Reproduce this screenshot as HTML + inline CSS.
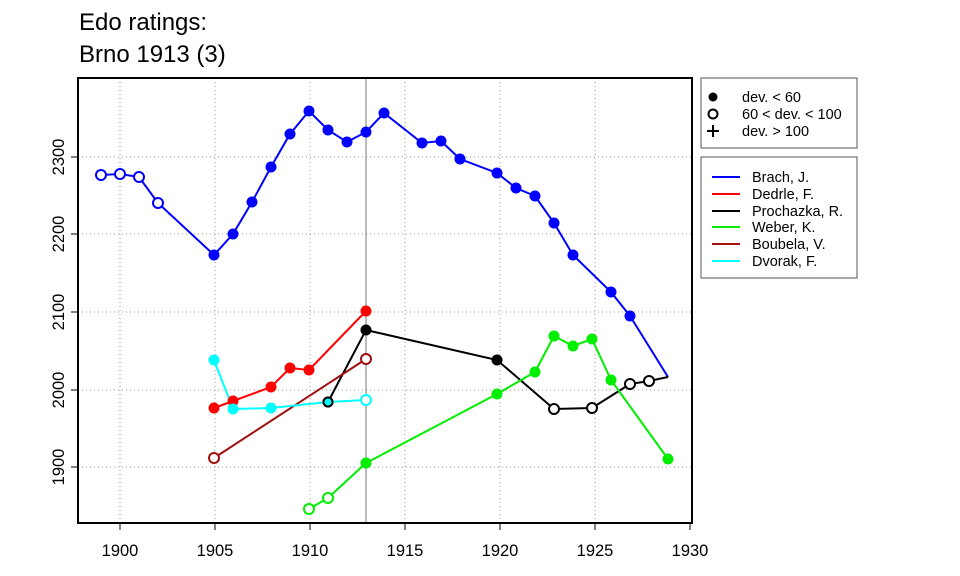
<!DOCTYPE html>
<html><head><meta charset="utf-8"><style>body{margin:0;background:#fff}svg{display:block}text{font-family:"Liberation Sans",Arial,sans-serif}</style></head>
<body>
<svg width="960" height="576" viewBox="0 0 960 576" xmlns="http://www.w3.org/2000/svg">
<text x="79" y="30" font-size="24">Edo ratings:</text>
<text x="79" y="62" font-size="24">Brno 1913 (3)</text>
<g stroke="#999" stroke-width="1" stroke-dasharray="1,3">
<line x1="120" y1="78" x2="120" y2="523"/><line x1="215" y1="78" x2="215" y2="523"/><line x1="310" y1="78" x2="310" y2="523"/><line x1="405" y1="78" x2="405" y2="523"/><line x1="500" y1="78" x2="500" y2="523"/><line x1="595" y1="78" x2="595" y2="523"/>
<line x1="78" y1="157" x2="692" y2="157"/><line x1="78" y1="234" x2="692" y2="234"/><line x1="78" y1="312" x2="692" y2="312"/><line x1="78" y1="390" x2="692" y2="390"/><line x1="78" y1="467" x2="692" y2="467"/>
</g>
<line x1="366" y1="78" x2="366" y2="523" stroke="#777" stroke-width="1"/>
<g fill="none" stroke-width="2">
<polyline stroke="#0000ff" points="101,175 120,174 139,177 158,203 214,255 233,234 252,202 271,167 290,134 309,111 328,130 347,142 366,132 384,113 422,143 441,141 460,159 497,173 516,188 535,196 554,223 573,255 611,292 630,316 668,377"/>
<polyline stroke="#ff0000" points="214,408 233,401 271,387 290,368 309,370 366,311"/>
<polyline stroke="#000" points="328,402 366,330 497,360 554,409 592,408 630,384 649,381 668,377"/>
<polyline stroke="#00ee00" points="309,509 328,498 366,463 497,394 535,372 554,336 573,346 592,339 611,380 668,459"/>
<polyline stroke="#a01010" points="214,458 366,359"/>
<polyline stroke="#00ffff" points="214,360 233,409 271,408 328,402 366,400"/>
</g>
<g stroke-width="2">
<g fill="#fff" stroke="#0000ff"><circle cx="101" cy="175" r="5"/><circle cx="120" cy="174" r="5"/><circle cx="139" cy="177" r="5"/><circle cx="158" cy="203" r="5"/></g>
<g fill="#0000ff" stroke="#0000ff"><circle cx="214" cy="255" r="4.5"/><circle cx="233" cy="234" r="4.5"/><circle cx="252" cy="202" r="4.5"/><circle cx="271" cy="167" r="4.5"/><circle cx="290" cy="134" r="4.5"/><circle cx="309" cy="111" r="4.5"/><circle cx="328" cy="130" r="4.5"/><circle cx="347" cy="142" r="4.5"/><circle cx="366" cy="132" r="4.5"/><circle cx="384" cy="113" r="4.5"/><circle cx="422" cy="143" r="4.5"/><circle cx="441" cy="141" r="4.5"/><circle cx="460" cy="159" r="4.5"/><circle cx="497" cy="173" r="4.5"/><circle cx="516" cy="188" r="4.5"/><circle cx="535" cy="196" r="4.5"/><circle cx="554" cy="223" r="4.5"/><circle cx="573" cy="255" r="4.5"/><circle cx="611" cy="292" r="4.5"/><circle cx="630" cy="316" r="4.5"/></g>
<g fill="#ff0000" stroke="#ff0000"><circle cx="214" cy="408" r="4.5"/><circle cx="233" cy="401" r="4.5"/><circle cx="271" cy="387" r="4.5"/><circle cx="290" cy="368" r="4.5"/><circle cx="309" cy="370" r="4.5"/><circle cx="366" cy="311" r="4.5"/></g>
<g fill="#000" stroke="#000"><circle cx="328" cy="402" r="4.5"/><circle cx="366" cy="330" r="4.5"/><circle cx="497" cy="360" r="4.5"/></g>
<g fill="#fff" stroke="#000"><circle cx="554" cy="409" r="5"/><circle cx="592" cy="408" r="5"/><circle cx="630" cy="384" r="5"/><circle cx="649" cy="381" r="5"/></g>
<g fill="#fff" stroke="#00ee00"><circle cx="309" cy="509" r="5"/><circle cx="328" cy="498" r="5"/></g>
<g fill="#00ee00" stroke="#00ee00"><circle cx="366" cy="463" r="4.5"/><circle cx="497" cy="394" r="4.5"/><circle cx="535" cy="372" r="4.5"/><circle cx="554" cy="336" r="4.5"/><circle cx="573" cy="346" r="4.5"/><circle cx="592" cy="339" r="4.5"/><circle cx="611" cy="380" r="4.5"/><circle cx="668" cy="459" r="4.5"/></g>
<g fill="#fff" stroke="#a01010"><circle cx="214" cy="458" r="5"/><circle cx="366" cy="359" r="5"/></g>
<g fill="#00ffff" stroke="#00ffff"><circle cx="214" cy="360" r="4.5"/><circle cx="233" cy="409" r="4.5"/><circle cx="271" cy="408" r="4.5"/></g>
<circle cx="328" cy="402" r="4.5" fill="#00ffff" stroke="#000"/>
<circle cx="366" cy="400" r="5" fill="#fff" stroke="#00ffff"/>
</g>
<rect x="78" y="78" width="614" height="445" fill="none" stroke="#000" stroke-width="2"/>
<g stroke="#000" stroke-width="1">
<line x1="120" y1="523" x2="120" y2="530"/><line x1="215" y1="523" x2="215" y2="530"/><line x1="310" y1="523" x2="310" y2="530"/><line x1="405" y1="523" x2="405" y2="530"/><line x1="500" y1="523" x2="500" y2="530"/><line x1="595" y1="523" x2="595" y2="530"/><line x1="690" y1="523" x2="690" y2="530"/>
<line x1="71" y1="157" x2="78" y2="157"/><line x1="71" y1="234" x2="78" y2="234"/><line x1="71" y1="312" x2="78" y2="312"/><line x1="71" y1="390" x2="78" y2="390"/><line x1="71" y1="467" x2="78" y2="467"/>
</g>
<g font-size="16.5" text-anchor="middle">
<text x="120" y="556">1900</text><text x="215" y="556">1905</text><text x="310" y="556">1910</text><text x="405" y="556">1915</text><text x="500" y="556">1920</text><text x="595" y="556">1925</text><text x="690" y="556">1930</text>
<text transform="translate(64,157) rotate(-90)">2300</text><text transform="translate(64,234) rotate(-90)">2200</text><text transform="translate(64,312) rotate(-90)">2100</text><text transform="translate(64,390) rotate(-90)">2000</text><text transform="translate(64,467) rotate(-90)">1900</text>
</g>
<rect x="701" y="78" width="156" height="70" fill="#fff" stroke="#555" stroke-width="1"/>
<circle cx="713" cy="97" r="4.5" fill="#000"/>
<circle cx="713" cy="114" r="4.5" fill="none" stroke="#000" stroke-width="2"/>
<path d="M707 131h12M713 125v12" stroke="#000" stroke-width="2"/>
<g font-size="14.5"><text x="742" y="102">dev. &lt; 60</text><text x="742" y="119">60 &lt; dev. &lt; 100</text><text x="742" y="136">dev. &gt; 100</text></g>
<rect x="701" y="157" width="156" height="121" fill="#fff" stroke="#555" stroke-width="1"/>
<g stroke-width="2">
<line x1="712" y1="177" x2="740" y2="177" stroke="#0000ff"/><line x1="712" y1="194" x2="740" y2="194" stroke="#ff0000"/><line x1="712" y1="211" x2="740" y2="211" stroke="#000"/><line x1="712" y1="227" x2="740" y2="227" stroke="#00ee00"/><line x1="712" y1="244" x2="740" y2="244" stroke="#a01010"/><line x1="712" y1="261" x2="740" y2="261" stroke="#00ffff"/>
</g>
<g font-size="14.5"><text x="752" y="182">Brach, J.</text><text x="752" y="199">Dedrle, F.</text><text x="752" y="216">Prochazka, R.</text><text x="752" y="232">Weber, K.</text><text x="752" y="249">Boubela, V.</text><text x="752" y="266">Dvorak, F.</text></g>
</svg>
</body></html>
